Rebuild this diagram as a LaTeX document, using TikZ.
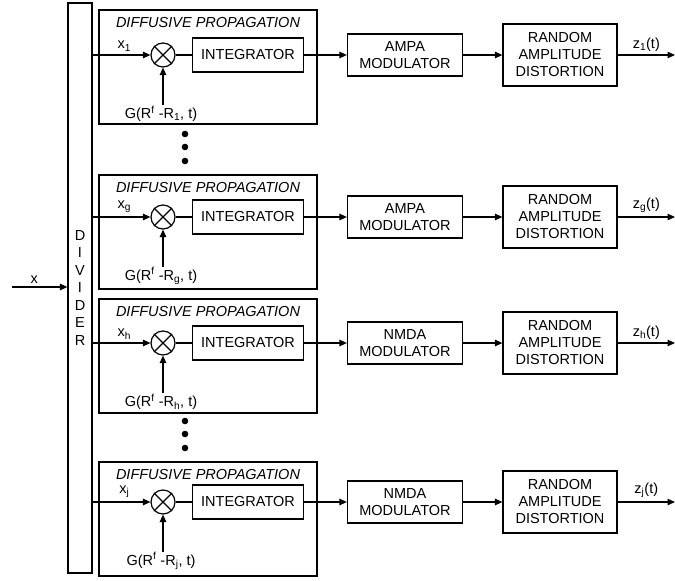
\documentclass[tikz,border=0pt]{standalone}
\usepackage{fontspec}
\setmainfont{Liberation Sans}
\usetikzlibrary{arrows.meta,positioning,calc}

\tikzset{
  blk/.style={draw, line width=1.2pt, align=center, inner sep=0pt},
  arr/.style={-{Triangle[length=7.5pt,width=6.5pt]}, line width=1.2pt},
  mulnode/.style={draw, circle, line width=1.2pt, minimum size=24pt, inner sep=0pt},
}

\begin{document}
\begin{tikzpicture}[x=1pt, y=-1pt, font=\fontsize{14.5}{17}\selectfont, line width=1.2pt]
    \useasboundingbox (0,0) rectangle (675,581);
    \node[blk, minimum width=24pt, minimum height=570pt, font=\fontsize{14.5}{17.5}\selectfont] (div) at (80,288) {D\\I\\V\\I\\D\\E\\R};
    \coordinate (xin) at (12,287);
    \draw[arr] (xin) -- node[above, pos=0.4] {x} (xin -| div.west);
    \foreach \n/\top/\sig/\idx/\mod in {1/10/55/1/AMPA, g/175/217/g/AMPA, h/299/343/h/NMDA, j/462/502/j/NMDA} {
        \node[blk, minimum width=218pt, minimum height=114pt] (prop\n) at (208,\top+57) {};
        \node[below=4pt of prop\n.north, font=\fontsize{14.5}{17}\selectfont\itshape] (title\n) {DIFFUSIVE PROPAGATION};
        \node[mulnode] (mul\n) at (163,\sig) {};
        \draw (mul\n.north west) -- (mul\n.south east) (mul\n.north east) -- (mul\n.south west);
        \node[blk, minimum width=111pt, minimum height=34pt] (int\n) at (248,\sig) {INTEGRATOR};
        \node[blk, minimum width=115pt, minimum height=42pt] (mod\n) at (405,\sig) {\mod\\MODULATOR};
        \node[blk, minimum width=114pt, minimum height=62pt] (rad\n) at (560,\sig) {RANDOM\\AMPLITUDE\\DISTORTION};
        \coordinate (out\n) at (675,\sig);
        \coordinate (gin\n) at ($(mul\n)+(0,50)$);
        \node (glab\n) at ($(mul\n)+(-2,59)$) {G(R\textsuperscript{f} -R\textsubscript{\idx}, t)};
        \draw[arr] (div.east |- mul\n) -- node[above, pos=0.55] {x\textsubscript{\idx}} (mul\n);
        \draw[arr] (gin\n) -- (mul\n);
        \draw (mul\n) -- (int\n);
        \draw[arr] (int\n) -- (mod\n);
        \draw[arr] (mod\n) -- (rad\n);
        \draw[arr] (rad\n) -- node[above] {z\textsubscript{\idx}(t)} (out\n);
    }
    % dots between the rows
    \foreach \yd in {134,147,161,421,434,448}
        \fill (185,\yd) circle (3.3pt);
\end{tikzpicture}
\end{document}
